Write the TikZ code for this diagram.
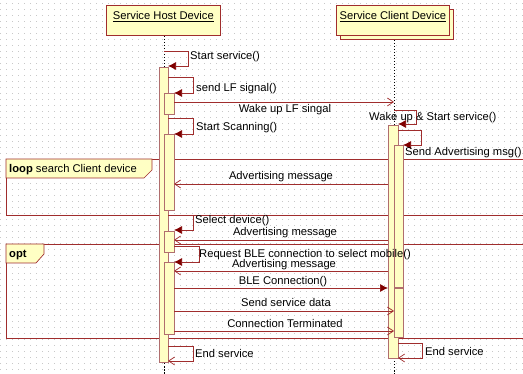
\documentclass[tikz,border=0pt]{standalone}
\usepackage{fontspec}
\setmainfont{Liberation Sans}
\usetikzlibrary{arrows.meta}
\definecolor{maroon}{RGB}{160, 45, 45}
\definecolor{arrowred}{RGB}{128, 0, 0}
\definecolor{lightyellow}{RGB}{255, 255, 196}
\definecolor{barline}{RGB}{176, 110, 110}
\definecolor{griddot}{RGB}{200, 200, 200}

\tikzset{
  msg/.style={maroon, line width=0.7pt},
  call/.style={msg, -{Latex[length=8pt, width=8pt, color=arrowred]}},
  reply/.style={msg, -{Straight Barb[length=6pt, width=8pt]}},
  actbar/.style={fill=lightyellow, draw=barline, line width=0.8pt},
  lifeline/.style={black, line width=0.5pt, dash pattern=on 1.5pt off 1.5pt},
  headbox/.style={fill=lightyellow, draw=maroon, line width=0.8pt, anchor=north west, inner sep=0pt},
  frame/.style={maroon, line width=0.7pt},
  lbl/.style={black, inner sep=0pt, anchor=base, font=\fontsize{11.2}{13}\selectfont},
}

\begin{document}
\begin{tikzpicture}[x=1pt, y=-1pt]
            % Frame to fix the page size
            \useasboundingbox                                      (0, 0) rectangle (523, 374);
            % Dotted background grid
            \foreach \gy in {3,9,...,374}
                \draw[griddot, line width=0.7pt, dash pattern=on 0.7pt off 5.3pt] (0,\gy) -- (523,\gy);
            % Combined fragments
            \draw[frame]                                           (6,159) rectangle (530,215);
            \draw[frame, fill=lightyellow]                         (6,159) -- (152,159) -- (152,170) -- (144,178) -- (6,178) -- cycle;
            \node[lbl, anchor=base west] (loopLbl) at (9,173)      {\textbf{loop} search Client device};
            \draw[frame]                                           (6,244) rectangle (530,338);
            \draw[frame, fill=lightyellow]                         (6,244) -- (44,244) -- (44,254) -- (36,263) -- (6,263) -- cycle;
            \node[lbl, anchor=base west] (optLbl) at (9,258)       {\textbf{opt}};
            % Lifelines
            \draw[lifeline]                                        (164,36) -- (164,374);
            \draw[lifeline]                                        (394,40) -- (394,374);
            % Heads
            \node[headbox, minimum width=114pt, minimum height=30pt] (host) at (106,5) {};
            \node[lbl] (hostName) at ([yshift=-15pt]host.north)   {\underline{Service Host Device}};
            \node[headbox, minimum width=113pt, minimum height=30pt] (clientShadow) at (340,9) {};
            \node[headbox, minimum width=113pt, minimum height=30pt] (client) at (336,5) {};
            \node[lbl] (clientName) at ([yshift=-15pt]client.north) {\underline{Service Client Device}};
            % Activation bars, host
            \draw[actbar]                                          (159,67)  rectangle (168,362);
            \draw[actbar]                                          (164,93)  rectangle (174,114);
            \draw[actbar]                                          (164,134) rectangle (174,210);
            \draw[actbar]                                          (164,231) rectangle (174,252);
            \draw[actbar]                                          (164,262) rectangle (174,334);
            % Activation bars, client
            \draw[actbar]                                          (388,125) rectangle (398,358);
            \draw[actbar]                                          (394,145) rectangle (403,287);
            \draw[actbar]                                          (394,288) rectangle (403,337);
            % Self calls, host
            \draw[call]                                            (164,51)  -- (188,51)  -- (188,66)  -- (168,66);
            \draw[call]                                            (168,77)  -- (193,77)  -- (193,93)  -- (174,93);
            \draw[call]                                            (168,118) -- (193,118) -- (193,134) -- (174,134);
            \draw[call]                                            (168,215) -- (193,215) -- (193,230) -- (174,230);
            \draw[call]                                            (174,246) -- (199,246) -- (199,262) -- (174,262);
            \draw[reply]                                           (168,346) -- (193,346) -- (193,361) -- (168,361);
            % Self calls, client
            \draw[call]                                            (394,110) -- (416,110) -- (416,124) -- (398,124);
            \draw[call]                                            (398,130) -- (421,130) -- (421,145) -- (403,145);
            \draw[reply]                                           (398,343) -- (422,343) -- (422,358) -- (398,358);
            % Messages between the devices
            \draw[reply]                                           (174,102) -- (394,102);
            \draw[reply]                                           (388,184) -- (174,184);
            \draw[reply]                                           (388,240) -- (174,240);
            \draw[reply]                                           (388,271) -- (174,271);
            \draw[call]                                            (174,288) -- (388,288);
            \draw[reply]                                           (174,311) -- (394,311);
            \draw[reply]                                           (174,331) -- (394,331);
            % Labels
            \node[lbl, anchor=base west] (startSvc)  at (190,60)   {Start service()};
            \node[lbl, anchor=base west] (sendLF)    at (196,92)   {send LF signal()};
            \node[lbl]                   (wakeLF)    at (285,113)  {Wake up LF singal};
            \node[lbl, anchor=base west] (startScan) at (196,131)  {Start Scanning()};
            \node[lbl, anchor=base west] (wakeStart) at (369,121)  {Wake up \& Start service()};
            \node[lbl, anchor=base west] (sendAdv)   at (405,156)  {Send Advertising msg()};
            \node[lbl]                   (advMsgA)   at (281,180)  {Advertising message};
            \node[lbl, anchor=base west] (selDev)    at (195,224)  {Select device()};
            \node[lbl]                   (advMsgB)   at (285,236)  {Advertising message};
            \node[lbl, anchor=base west] (reqBLE)    at (199,258)  {Request BLE connection to select mobile()};
            \node[lbl]                   (advMsgC)   at (284,268)  {Advertising message};
            \node[lbl]                   (bleConn)   at (283,285)  {BLE Connection()};
            \node[lbl]                   (sendData)  at (286,307)  {Send service data};
            \node[lbl]                   (connEnd)   at (285,328)  {Connection Terminated};
            \node[lbl, anchor=base west] (endHost)   at (195,358)  {End service};
            \node[lbl, anchor=base west] (endClient) at (425,356)  {End service};
\end{tikzpicture}
\end{document}
